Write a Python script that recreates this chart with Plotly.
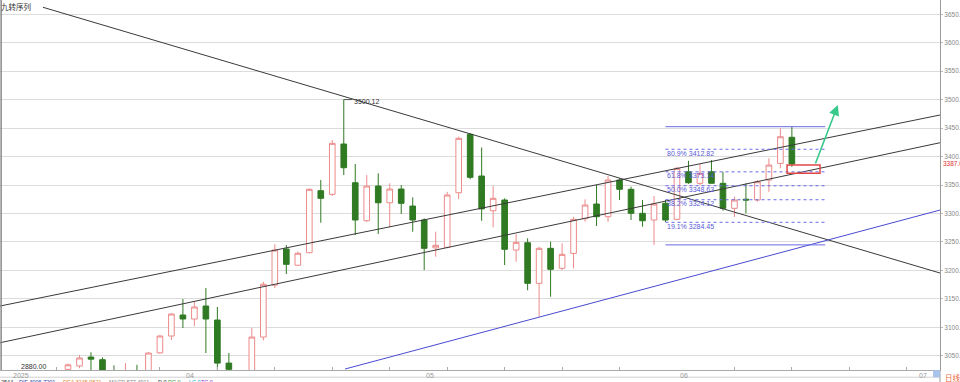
import plotly.graph_objects as go

# ---------------- data ----------------
idx = list(range(64))
opens = [3026, 3032, 3047.6, 3043, 3018, 3005, 3018, 3015, 3055, 3084.6,
         3121.5, 3114.5, 3137.3, 3112.7, 3037, 3012, 3015, 3082.8, 3174, 3237.5,
         3209, 3231, 3340, 3333.6, 3422, 3354, 3287.2, 3348.2, 3318.8, 3342.9,
         3313, 3288.5, 3239.5, 3240.5, 3336.4, 3439, 3365.8, 3304.8, 3323.6, 3235.7,
         3248.6, 3177.2, 3238.7, 3203.6, 3229.8, 3290.7, 3316.6, 3294.3, 3358.7, 3342.4,
         3300.2, 3288.5, 3317.8, 3289.7, 3373.3, 3352.9, 3373.3, 3352.9, 3309, 3325,
         3323.6, 3358.7, 3388, 3433.8]
highs = [3036, 3051, 3056, 3047, 3033, 3037, 3034, 3056, 3086, 3125,
         3149.6, 3146, 3169, 3135.6, 3054.7, 3021, 3098.6, 3180, 3246, 3244.5,
         3232.8, 3344, 3358.7, 3429, 3500.12, 3386.9, 3367.5, 3370.5, 3352.9, 3350,
         3328.3, 3291.4, 3267.9, 3338, 3434.8, 3440.8, 3416, 3348, 3326.6, 3263.8,
         3256.3, 3241.5, 3250.3, 3247.5, 3294, 3324.8, 3350, 3365.8, 3361.7, 3347,
         3323.6, 3330.6, 3323.6, 3382, 3392.6, 3386.4, 3394, 3373.3, 3329.4, 3352.9,
         3358.7, 3396.9, 3449.6, 3452.47]
lows = [3018, 3028, 3015, 3000, 3000, 2995, 3000, 3005, 3053, 3077.6,
        3098.6, 3102, 3054.7, 3020, 3010, 2990, 3005, 3077, 3169, 3193.5,
        3207.6, 3230, 3283.7, 3330.6, 3367.5, 3262, 3285, 3263.8, 3275.6, 3299,
        3267.9, 3200.6, 3224, 3239, 3325, 3360, 3287, 3275.6, 3209.4, 3215.2,
        3165, 3118.5, 3153.6, 3200.6, 3203.6, 3285.4, 3278, 3285.4, 3323.6, 3288.5,
        3276.7, 3244.78, 3285, 3288, 3352, 3350, 3353, 3305, 3294, 3300,
        3320.6, 3338, 3379.3, 3382]
closes = [3034, 3046, 3044, 3010, 3008, 3015, 3010, 3054.7, 3084.6, 3123.2,
          3114.5, 3135.6, 3114.5, 3037, 3026, 3003, 3082.8, 3175.5, 3235.7, 3210.6,
          3230, 3342.4, 3326.6, 3423.2, 3380.4, 3288.5, 3348.2, 3318.8, 3342.9, 3317.8,
          3288.5, 3238.7, 3244, 3332.4, 3432, 3363.5, 3308, 3326.6, 3237, 3249.2,
          3177.2, 3238.7, 3201.8, 3228.1, 3289.6, 3314.8, 3294.3, 3358.7, 3342.4, 3300.2,
          3287.2, 3316.6, 3288.5, 3379.3, 3354, 3370.5, 3353, 3309, 3323.6, 3323.6,
          3355.8, 3385, 3434.8, 3387.0]

y_ticks = [3050, 3100, 3150, 3200, 3250, 3300, 3350, 3400, 3450, 3500, 3550, 3600, 3650]
y_ticktext = [f"{v}.00" for v in y_ticks]
x_minor_ticks = [-1, 4, 8, 13, 18, 23, 28, 33, 38, 43, 48, 58, 63, 68, 73]
month_labels = ["2025", "04", "05", "06", "07"]
month_pos = [-4.87, 10.18, 31.07, 53.2, 74.0]

fib_pcts = ["80.9%", "61.8%", "50.0%", "38.2%", "19.1%"]
fib_vals = [3412.82, 3373.14, 3348.63, 3324.12, 3284.45]
fib_high, fib_low = 3452.47, 3244.78
fib_x0, fib_x1 = 52.0, 65.9

# trend lines: (x0, y0, x1, y1) in index / price
trend_black = [(-2.18, 3662.3, 75.89, 3195.3),
               (-5.92, 3137.3, 75.89, 3473.0),
               (-5.92, 3072.8, 75.89, 3424.3)]
trend_blue = [(24.11, 3026.6, 75.89, 3306.0)]

last_price = 3387.0
peak_label = 3500.12
low_label = "2880.00"

XR = [-5.918, 75.89]
YR = [3024.9, 3675.1]

FONT = "Liberation Sans, Arial, sans-serif"
UP = "#ec8a8a"
DOWN = "#2f7a22"
BLUE = "#5a5ad8"

fig = go.Figure()
fig.add_trace(go.Candlestick(
    x=idx, open=opens, high=highs, low=lows, close=closes,
    increasing=dict(line=dict(color=UP, width=1), fillcolor="white"),
    decreasing=dict(line=dict(color=DOWN, width=1), fillcolor=DOWN),
    whiskerwidth=0, hoverinfo="skip", showlegend=False))

shapes = []
for (x0, y0, x1, y1) in trend_black:
    shapes.append(dict(type="line", x0=x0, y0=y0, x1=x1, y1=y1, xref="x", yref="y",
                       line=dict(color="#3a3a3a", width=1)))
for (x0, y0, x1, y1) in trend_blue:
    shapes.append(dict(type="line", x0=x0, y0=y0, x1=x1, y1=y1, xref="x", yref="y",
                       line=dict(color="#4a4ad0", width=1)))
# fib
for v in (fib_high, fib_low):
    shapes.append(dict(type="line", x0=fib_x0, x1=fib_x1, y0=v, y1=v, xref="x", yref="y",
                       line=dict(color="#6a6ae6", width=1)))
for v in fib_vals:
    shapes.append(dict(type="line", x0=fib_x0, x1=fib_x1, y0=v, y1=v, xref="x", yref="y",
                       line=dict(color="#6a6ae6", width=1, dash="dot")))
# red highlight rectangle
shapes.append(dict(type="rect", x0=62.58, x1=65.45, y0=3370.5, y1=3385.1, xref="x", yref="y",
                   line=dict(color="#e04848", width=1.5), fillcolor="rgba(0,0,0,0)"))
# peak connector
shapes.append(dict(type="line", x0=24, x1=24.75, y0=peak_label, y1=peak_label, xref="x", yref="y",
                   line=dict(color="#555", width=1)))
# left border, bottom separator, right axis extension, small blue box
shapes.append(dict(type="line", x0=0.0012, x1=0.0012, y0=0, y1=1, xref="paper", yref="paper",
                   line=dict(color="#888", width=1.5)))
shapes.append(dict(type="line", x0=0, x1=1, y0=-0.0195, y1=-0.0195, xref="paper", yref="paper",
                   line=dict(color="#d0d0d0", width=1)))
shapes.append(dict(type="line", x0=1, x1=1, y0=0, y1=-0.04, xref="paper", yref="paper",
                   line=dict(color="#999", width=1)))
shapes.append(dict(type="rect", x0=0.9926, x1=1.0, y0=-0.0005, y1=-0.0195, xref="paper", yref="paper",
                   line=dict(width=0), fillcolor="#a9c4ec"))

ann = []
ann.append(dict(x=0.0, y=0.999, xref="paper", yref="paper", text="九转序列", showarrow=False,
                xanchor="left", yanchor="top", font=dict(size=7.5, color="#333",
                family="Noto Sans CJK SC"), borderpad=0))
for lab, pos in zip(month_labels, month_pos):
    ann.append(dict(x=pos, y=-0.004, xref="x", yref="paper", text=lab, showarrow=False,
                    xanchor="left", yanchor="top", font=dict(size=7, color="#999", family=FONT),
                    borderpad=0))
ann.append(dict(x=1.004, y=-0.004, xref="paper", yref="paper", text="日线", showarrow=False,
                xanchor="left", yanchor="top", font=dict(size=7.5, color="#e8643a",
                family="Noto Sans CJK SC"), borderpad=0))
for p, v in zip(fib_pcts, fib_vals):
    ann.append(dict(x=52.05, y=v, xref="x", yref="y", text=f"{p} {v:.2f}", showarrow=False,
                    xanchor="left", yanchor="middle", yshift=-4,
                    font=dict(size=7, color=BLUE, family=FONT), borderpad=0))
ann.append(dict(x=24.78, y=peak_label, xref="x", yref="y", text=f"{peak_label:.2f}", showarrow=False,
                xanchor="left", yanchor="middle", yshift=-2,
                font=dict(size=7, color="#333", family=FONT), borderpad=0))
ann.append(dict(x=-4.18, y=3030.9, xref="x", yref="y", text=low_label, showarrow=False,
                xanchor="left", yanchor="middle", font=dict(size=7, color="#333", family=FONT),
                borderpad=0))
ann.append(dict(x=1.002, y=last_price, xref="paper", yref="y", text=f"{last_price:.1f}0",
                showarrow=False, xanchor="left", yanchor="middle",
                font=dict(size=6.5, color="#e03030", family=FONT), borderpad=0, bgcolor="white"))
# green arrow
ann.append(dict(x=67.0, y=3490.6, ax=65.0, ay=3385.1, xref="x", yref="y", axref="x", ayref="y",
                text="", showarrow=True, arrowhead=2, arrowsize=1.3, arrowwidth=1.6,
                arrowcolor="#36c98a", standoff=0))
# indicator row (clipped at the bottom)
ind = [("2544", "#333", 0.0), ("DIF 3006.7201", "#2244aa", 0.019),
       ("DEA 3245.9821", "#e08a30", 0.066), ("MACD 577.4911", "#888", 0.115),
       ("D 0", "#333", 0.167), ("RC 0", "#3a9a3a", 0.178), ("LC 0", "#22aacc", 0.2),
       ("TC 0", "#9933cc", 0.213)]
for t, c, xp in ind:
    ann.append(dict(x=xp, y=-0.022, xref="paper", yref="paper", text=t, showarrow=False,
                    xanchor="left", yanchor="top", font=dict(size=5.5, color=c, family=FONT),
                    borderpad=0))

fig.update_layout(
    width=960, height=382,
    margin=dict(l=0, r=20, t=0, b=12, autoexpand=False),
    paper_bgcolor="white", plot_bgcolor="white",
    shapes=shapes, annotations=ann, showlegend=False,
    xaxis=dict(range=XR, showgrid=False, zeroline=False, showline=True, linecolor="#aaa",
               linewidth=1, tickvals=x_minor_ticks, ticks="inside", ticklen=3, tickcolor="#aaa",
               showticklabels=False, rangeslider=dict(visible=False), fixedrange=True,
               automargin=False),
    yaxis=dict(range=YR, side="right", tickvals=y_ticks, ticktext=y_ticktext,
               showgrid=True, gridcolor="#dcdcdc", gridwidth=1, zeroline=False,
               showline=True, linecolor="#999", linewidth=1, ticks="outside", ticklen=2,
               tickcolor="#bbb", tickfont=dict(size=6.5, color="#888", family=FONT),
               fixedrange=True, automargin=False),
)

fig.write_html("out.html", config={"displayModeBar": False},
               post_script="document.body.style.margin='0';document.body.style.overflow='hidden';")
